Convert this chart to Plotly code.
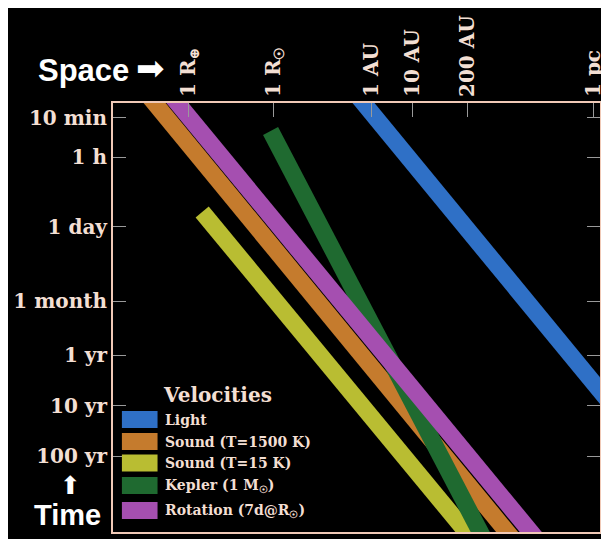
import plotly.graph_objects as go

# ---------------- data ----------------
series_names = ["Light", "Sound (T=1500 K)", "Sound (T=15 K)",
                "Kepler (1 M<sub>☉</sub>)", "Rotation (7d@R<sub>☉</sub>)"]
series_colors = ["#2f70c6", "#c57b2d", "#b9bd32", "#1f6a30", "#a54fb0"]

# band endpoints: distance [m], time [s]
light_d = [1.06e10, 2.8e17]
light_t = [31.6, 1.0e9]
sound1500_d = [2.1e5, 1.04e15]
sound1500_t = [63, 4.0e11]
sound15_d = [1.36e7, 1.11e14]
sound15_t = [4.44e4, 4.0e11]
kepler_d = [5.9e8, 1.45e14]
kepler_t = [1089, 4.0e11]
rotation_d = [7.35e5, 3.85e15]
rotation_t = [63, 4.0e11]

space_tickvals = [6.371e6, 6.957e8, 1.496e11, 1.496e12, 2.992e13, 3.086e16]
space_ticktext = ["1 R<sub>⊕</sub>", "1 R<sub>☉</sub>", "1 AU", "10 AU", "200 AU", "1 pc"]
time_tickvals = [600, 3600, 86400, 2.63e6, 3.156e7, 3.156e8, 3.156e9]
time_ticktext = ["10 min", "1 h", "1 day", "1 month", "1 yr", "10 yr", "100 yr"]

# ---------------- layout geometry ----------------
OFF = 8                      # page offset of the figure (body margin)
W, H = 601, 531
L, R, T, B = 105, 4, 95, 7
PW, PH = W - L - R, H - T - B


def px(x):                   # page pixel -> paper x
    return (x - OFF - L) / PW


def py(y):                   # page pixel -> paper y
    return (H - B - (y - OFF)) / PH


TXT = "#f3dfd3"
SERIF = "DejaVu Serif"

fig = go.Figure()
bands = [(light_d, light_t), (sound1500_d, sound1500_t), (sound15_d, sound15_t),
         (kepler_d, kepler_t), (rotation_d, rotation_t)]
for (d, t), name, col in zip(bands, series_names, series_colors):
    fig.add_trace(go.Scatter(x=d, y=t, mode="lines", name=name,
                             line=dict(color=col, width=17),
                             showlegend=False, hoverinfo="skip"))

shapes = []
annotations = []

# manual legend
annotations.append(dict(text="Velocities", xref="paper", yref="paper", x=px(161), y=py(395),
                        xanchor="left", yanchor="middle", showarrow=False,
                        font=dict(family=SERIF, size=20, color=TXT, weight="bold")))
item_y = [419.5, 441.5, 463, 485.5, 510.5]
for yy, name, col in zip(item_y, series_names, series_colors):
    shapes.append(dict(type="rect", xref="paper", yref="paper", x0=px(122), x1=px(158),
                       y0=py(yy + 8.5), y1=py(yy - 8.5), fillcolor=col, line_width=0))
    annotations.append(dict(text=name, xref="paper", yref="paper", x=px(164), y=py(yy),
                            xanchor="left", yanchor="middle", showarrow=False,
                            font=dict(family=SERIF, size=14, color=TXT, weight="bold")))

# axis captions
annotations += [
    dict(text="Space", xref="paper", yref="paper", x=px(35), y=py(70), xanchor="left",
         yanchor="middle", showarrow=False,
         font=dict(family="Liberation Sans", size=31, color="white", weight="bold")),
    dict(text="➡", xref="paper", yref="paper", x=px(151), y=py(68), xanchor="center",
         yanchor="middle", showarrow=False,
         font=dict(family="DejaVu Sans", size=34, color="white")),
    dict(text="Time", xref="paper", yref="paper", x=px(31), y=py(515), xanchor="left",
         yanchor="middle", showarrow=False,
         font=dict(family="Liberation Sans", size=29, color="white", weight="bold")),
    dict(text="⬆", xref="paper", yref="paper", x=px(70), y=py(485), xanchor="center",
         yanchor="middle", showarrow=False,
         font=dict(family="DejaVu Sans", size=25, color="white")),
]

fig.update_layout(
    width=W, height=H, margin=dict(l=L, r=R, t=T, b=B, pad=0),
    paper_bgcolor="black", plot_bgcolor="black",
    shapes=shapes, annotations=annotations, showlegend=False,
    xaxis=dict(type="log", range=[5.0, 16.655], side="top",
               tickvals=space_tickvals, ticktext=space_ticktext, tickangle=-90,
               ticks="inside", ticklen=14, tickcolor="#9a9a9a", tickwidth=1,
               showgrid=False, zeroline=False,
               showline=True, mirror=True, linecolor="#f0c9b6", linewidth=2,
               tickfont=dict(family=SERIF, size=20, color=TXT, weight="bold")),
    yaxis=dict(type="log", range=[11.01, 2.48],
               tickvals=time_tickvals, ticktext=time_ticktext,
               ticks="inside", ticklen=13, tickcolor="#9a9a9a", tickwidth=1,
               showgrid=False, zeroline=False,
               showline=True, mirror="ticks", linecolor="#f0c9b6", linewidth=2,
               tickfont=dict(family=SERIF, size=20, color=TXT, weight="bold")),
)

fig.write_html("out.html")
